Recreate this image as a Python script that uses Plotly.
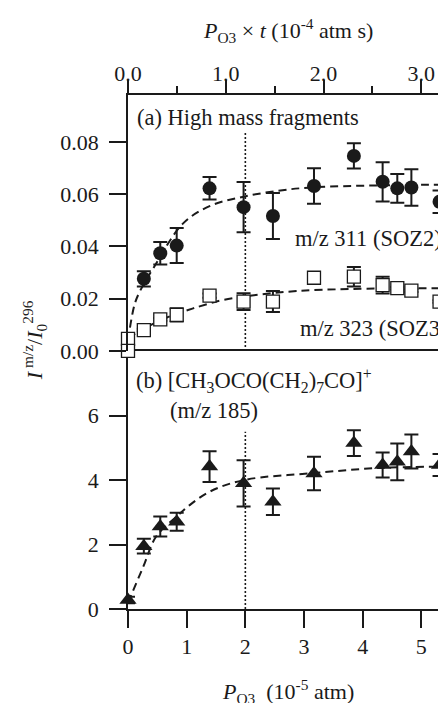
import plotly.graph_objects as go

# ---------------- data ----------------
# bottom axis: P_O3 in 1e-5 atm
reaction_time_s = 6.0            # top axis  P_O3 x t (1e-4 atm s) = P_O3(1e-5 atm) * t / 10
top_ticks = [0.0, 1.0, 2.0, 3.0]
top_tick_labels = ["0.0", "1.0", "2.0", "3.0"]
top_minor = [0.5, 1.5, 2.5]
bottom_ticks = [0, 1, 2, 3, 4, 5]
ya_ticks = [0.00, 0.02, 0.04, 0.06, 0.08]
yb_ticks = [0, 2, 4, 6]

# (a) m/z 311 (SOZ2) - filled circles
soz2_x = [0.27, 0.55, 0.83, 1.39, 1.97, 2.47, 3.17, 3.85, 4.34, 4.59, 4.83, 5.31]
soz2_y = [0.0276, 0.0374, 0.0403, 0.0622, 0.0550, 0.0516, 0.0631, 0.0746, 0.0647, 0.0622, 0.0625, 0.0571]
soz2_err = [0.0029, 0.0043, 0.0067, 0.0043, 0.0096, 0.0088, 0.0068, 0.0048, 0.0075, 0.0055, 0.0070, 0.0043]

# (a) m/z 323 (SOZ3) - open squares
soz3_x = [0, 0, 0.27, 0.55, 0.83, 1.39, 1.97, 2.47, 3.17, 3.85, 4.34, 4.59, 4.83, 5.31]
soz3_y = [0.0046, 0.0000, 0.0080, 0.0121, 0.0138, 0.0212, 0.0189, 0.0189, 0.0280, 0.0284, 0.0252, 0.0240, 0.0231, 0.0189]
soz3_err = [0.0, 0.0, 0.0005, 0.0005, 0.0025, 0.0008, 0.0032, 0.0040, 0.0008, 0.0037, 0.0032, 0.0005, 0.0005, 0.0005]

# (b) m/z 185 - filled triangles
m185_x = [0, 0.27, 0.55, 0.83, 1.39, 1.97, 2.47, 3.17, 3.85, 4.34, 4.59, 4.83, 5.31]
m185_y = [0.28, 1.95, 2.56, 2.71, 4.42, 3.90, 3.33, 4.21, 5.15, 4.47, 4.57, 4.89, 4.47]
m185_err = [0.10, 0.23, 0.31, 0.28, 0.48, 0.72, 0.41, 0.52, 0.40, 0.39, 0.57, 0.53, 0.34]

# dashed fit curves
fit311_x = [0.0, 0.11, 0.20, 0.43, 0.94, 1.40, 1.97, 2.60, 3.17, 4.20, 5.42]
fit311_y = [0.0040, 0.0176, 0.0227, 0.0316, 0.0488, 0.0555, 0.0590, 0.0614, 0.0626, 0.0633, 0.0636]
fit323_x = [0.0, 0.27, 0.55, 0.83, 1.11, 1.56, 1.94, 2.25, 2.87, 3.78, 5.42]
fit323_y = [0.0050, 0.0085, 0.0118, 0.0142, 0.0163, 0.0192, 0.0207, 0.0216, 0.0229, 0.0237, 0.0240]
fit185_x = [0.0, 0.26, 0.48, 0.83, 1.02, 1.39, 1.97, 3.17, 4.30, 5.42]
fit185_y = [0.20, 1.31, 2.25, 2.87, 3.18, 3.64, 4.00, 4.22, 4.38, 4.42]

# dotted reference line at P_O3 = 2e-5 atm
ref_x = 2.0
ref_top_a = 0.0834
ref_top_b = 5.5

# ---------------- figure ----------------
INK = "#1a1a1a"
FONT = "Liberation Serif"
x_max = 5.42

fig = go.Figure()

# dotted reference lines
fig.add_trace(go.Scatter(x=[ref_x, ref_x], y=[0, ref_top_a], xaxis="x2", yaxis="y2", mode="lines",
                         line=dict(color=INK, width=1.6, dash="2px,2px"), hoverinfo="skip"))
fig.add_trace(go.Scatter(x=[ref_x, ref_x], y=[0, ref_top_b], xaxis="x", yaxis="y", mode="lines",
                         line=dict(color=INK, width=1.6, dash="2px,2px"), hoverinfo="skip"))

dash = "8px,5px"
fig.add_trace(go.Scatter(x=fit311_x, y=fit311_y, xaxis="x2", yaxis="y2", mode="lines", line_shape="spline",
                         line=dict(color=INK, width=2, dash=dash), hoverinfo="skip", cliponaxis=False))
fig.add_trace(go.Scatter(x=fit323_x, y=fit323_y, xaxis="x2", yaxis="y2", mode="lines", line_shape="spline",
                         line=dict(color=INK, width=2, dash=dash), hoverinfo="skip", cliponaxis=False))
fig.add_trace(go.Scatter(x=fit185_x, y=fit185_y, xaxis="x", yaxis="y", mode="lines", line_shape="spline",
                         line=dict(color=INK, width=2, dash=dash), hoverinfo="skip", cliponaxis=False))

err_style = dict(type="data", visible=True, color=INK, thickness=2, width=7)

fig.add_trace(go.Scatter(x=soz3_x, y=soz3_y, xaxis="x2", yaxis="y2", mode="markers", cliponaxis=False,
                         marker=dict(symbol="square", size=13, color="white", line=dict(color=INK, width=1.3)),
                         error_y=dict(array=soz3_err, **err_style), name="m/z 323"))
fig.add_trace(go.Scatter(x=soz2_x, y=soz2_y, xaxis="x2", yaxis="y2", mode="markers", cliponaxis=False,
                         marker=dict(symbol="circle", size=14, color=INK),
                         error_y=dict(array=soz2_err, **err_style), name="m/z 311"))
fig.add_trace(go.Scatter(x=m185_x, y=m185_y, xaxis="x", yaxis="y", mode="markers", cliponaxis=False,
                         marker=dict(symbol="triangle-up", size=15, color=INK),
                         error_y=dict(array=m185_err, **err_style), name="m/z 185"))

tickfont = dict(family=FONT, size=22, color=INK)
common = dict(showgrid=False, zeroline=False, showline=True, linecolor=INK, linewidth=1.5,
              tickcolor=INK, tickwidth=1.5, tickfont=tickfont)

# the page has an 8 px body margin: the figure is sized so that it ends at the window edge
fig.update_layout(
    width=438, height=695,
    margin=dict(l=120, r=0, t=87, b=94),
    paper_bgcolor="white", plot_bgcolor="white",
    showlegend=False,
    font=dict(family=FONT, size=22, color=INK),
    xaxis=dict(domain=[0, 1], range=[0, x_max], anchor="y", mirror=True, ticks="outside", ticklen=17,
               tickvals=bottom_ticks, **common),
    xaxis2=dict(domain=[0, 1], range=[0, x_max], anchor="y2", side="top", ticks="outside", ticklen=13,
                ticklabelstandoff=-10,
                tickvals=[v * 10 / reaction_time_s for v in top_ticks], ticktext=top_tick_labels,
                minor=dict(tickvals=[v * 10 / reaction_time_s for v in top_minor], ticks="outside",
                           ticklen=7, tickwidth=1.5, tickcolor=INK),
                **common),
    yaxis=dict(domain=[0, 0.502], range=[0, 8.01], anchor="x", ticks="outside", ticklen=17,
               ticklabelstandoff=6, tickvals=yb_ticks, **common),
    yaxis2=dict(domain=[0.502, 1], range=[0, 0.0979], anchor="x2", ticks="outside", ticklen=17,
                ticklabelstandoff=6, tickvals=ya_ticks, tickformat=".2f", **common),
)

def note(text, x, y, xanchor="left", angle=0, size=22):
    fig.add_annotation(text=text, x=x, y=y, xref="paper", yref="paper", showarrow=False,
                       xanchor=xanchor, yanchor="middle", textangle=angle,
                       font=dict(family=FONT, size=size, color=INK))

note("(a) High mass fragments", 0.022, 0.957, size=22.5)
note("m/z 311 (SOZ2)", 0.518, 0.721, size=22.5)
note("m/z 323 (SOZ3)", 0.5355, 0.545, size=22.5)
note("(b) [CH<sub>3</sub>OCO(CH<sub>2</sub>)<sub>7</sub>CO]<sup>+</sup>", 0.019, 0.4455, size=22.5)
note("(m/z 185)", 0.127, 0.387, size=22.5)
note("<i>P</i><sub>O3</sub> × <i>t</i> (10<sup>-4</sup> atm s)", 0.503, 1.126, xanchor="center")
note("<i>P</i><sub>O3</sub>  (10<sup>-5</sup> atm)", 0.503, -0.160, xanchor="center")
note("<i>I</i><sup> m/z</sup>/<i>I</i><sub>0</sub><sup>296</sup>", -0.2956, 0.523, xanchor="center", angle=-90)

fig.write_html("out.html")
